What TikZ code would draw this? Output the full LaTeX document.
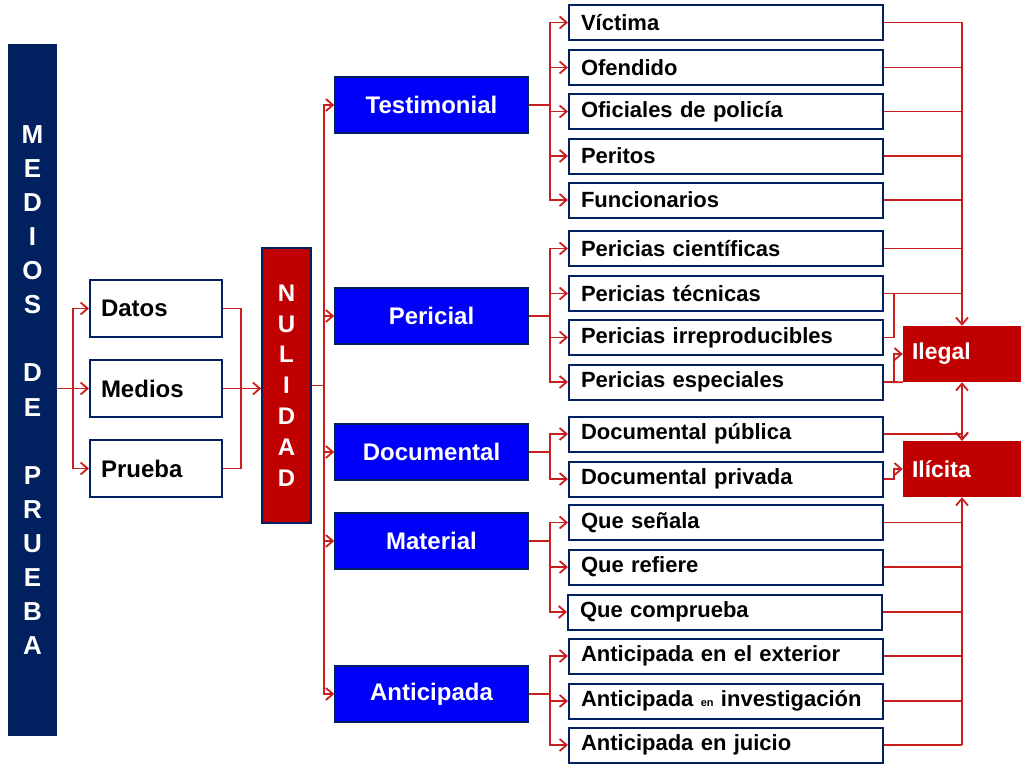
\documentclass[tikz,border=0pt]{standalone}
\usepackage{fontspec}
\setmainfont{Liberation Sans}
\usetikzlibrary{arrows.meta}
\definecolor{navy}{RGB}{0,32,96}
\definecolor{nred}{RGB}{192,0,0}
\definecolor{lred}{RGB}{200,30,30}
\definecolor{nblue}{RGB}{0,0,250}
\begin{document}
\begin{tikzpicture}[x=1pt,y=-1pt,
    leaf/.style={draw=navy,line width=2pt,fill=white,minimum width=314pt,minimum height=35pt,text width=290pt,inner xsep=12pt,align=left,font=\fontsize{22}{24}\bfseries\selectfont},
    mid/.style={leaf,minimum width=132pt,minimum height=57pt,text width=110pt,inner xsep=11pt,font=\fontsize{24}{26}\bfseries\selectfont},
    cat/.style={draw=navy,line width=1.5pt,fill=nblue,text=white,minimum width=193pt,minimum height=56pt,font=\fontsize{24}{26}\bfseries\selectfont},
    res/.style={fill=nred,text=white,minimum width=118pt,minimum height=56pt,text width=100pt,align=left,font=\fontsize{23}{25}\bfseries\selectfont},
    ln/.style={draw=lred,line width=1.8pt},
    arr/.style={ln,-{Straight Barb[length=7pt,width=12pt]}},
    darr/.style={ln,{Straight Barb[length=7pt,width=12pt]}-{Straight Barb[length=7pt,width=12pt]}}]
    \useasboundingbox (0,0) rectangle (1024,768);

    \node[fill=navy,minimum width=49pt,minimum height=692pt,text=white,align=center,
          font=\fontsize{26}{34.1}\bfseries\selectfont] (medp) at (32.5,390)
          {M\\E\\D\\I\\O\\S\\ \\D\\E\\ \\P\\R\\U\\E\\B\\A};
    \node[mid] (datos) at (156,308.5) {Datos};
    \node[mid] (medios) at (156,388.5) {Medios};
    \node[mid] (prueba) at (156,468.5) {Prueba};
    \node[draw=navy,line width=1.5pt,fill=nred,minimum width=49pt,minimum height=275pt,text=white,align=center,
          font=\fontsize{24}{30.8}\bfseries\selectfont] (nul) at (286.5,385.5)
          {N\\U\\L\\I\\D\\A\\D};

    \node[cat] (test) at (431.5,105) {Testimonial};
    \node[cat] (peri) at (431.5,316) {Pericial};
    \node[cat] (docu) at (431.5,452) {Documental};
    \node[cat] (mate) at (431.5,541) {Material};
    \node[cat] (anti) at (431.5,694) {Anticipada};

    \node[leaf] (vic) at (726,22.5) {Víctima};
    \node[leaf] (ofe) at (726,67.5) {Ofendido};
    \node[leaf] (ofi) at (726,111.5) {Oficiales de policía};
    \node[leaf] (per) at (726,156) {Peritos};
    \node[leaf] (fun) at (726,200) {Funcionarios};
    \node[leaf] (pcie) at (726,248.5) {Pericias científicas};
    \node[leaf] (ptec) at (726,293.5) {Pericias técnicas};
    \node[leaf] (pirr) at (726,337.5) {Pericias irreproducibles};
    \node[leaf] (pesp) at (726,382) {Pericias especiales};
    \node[leaf] (dpub) at (726,434) {Documental pública};
    \node[leaf] (dpri) at (726,479) {Documental privada};
    \node[leaf] (qsen) at (726,522.5) {Que señala};
    \node[leaf] (qref) at (726,567) {Que refiere};
    \node[leaf] (qcom) at (725,612) {Que comprueba};
    \node[leaf] (aext) at (726,656) {Anticipada en el exterior};
    \node[leaf] (ainv) at (726,701) {Anticipada {\fontsize{11}{11}\selectfont en} investigación};
    \node[leaf] (ajui) at (726,745) {Anticipada en juicio};

    \node[res] (ilegal) at (962,354) {Ilegal};
    \node[res] (ilicita) at (962,469) {Ilícita};

    % left side
    \draw[arr] (medp.east |- medios) -- ++(16,0) |- (datos);
    \draw[arr] (medp.east |- medios) -- ++(16,0) |- (prueba);
    \draw[arr] (medp.east |- medios) -- (medios);
    \draw[ln] (datos.east) -- ++(18,0) |- (prueba.east);
    \draw[arr] (medios.east) -- (nul.west |- medios);
    \foreach \c in {test,peri,docu,mate,anti}
        \draw[arr] (nul.east) -- ++(12,0) |- (\c);

    % categories to leaves
    \foreach \c/\l in {test/vic,test/ofe,test/ofi,test/per,test/fun,
                       peri/pcie,peri/ptec,peri/pirr,peri/pesp,
                       docu/dpub,docu/dpri,
                       mate/qsen,mate/qref,mate/qcom,
                       anti/aext,anti/ainv,anti/ajui}
        \draw[arr] (\c.east) -- ++(21,0) |- (\l);

    % right side
    \coordinate (busT) at (962,22.5);
    \coordinate (busB) at (962,745);
    \foreach \l in {vic,ofe,ofi,per,fun,pcie,ptec,dpub}
        \draw[ln] (\l.east) -- (\l.east -| busT);
    \foreach \l in {qsen,qref,qcom,aext,ainv,ajui}
        \draw[ln] (\l.east) -- (\l.east -| busB);
    \draw[arr] (busT) -- (ilegal.north);
    \draw[arr] (busB) -- (ilicita.south);
    \draw[darr] (ilegal.south) -- (ilicita.north);
    \draw[arr] (dpub.east -| busT) -- (ilicita.north);
    \draw[ln] (pirr.east) -- ++(10,0) |- (ptec.east);
    \draw[ln] (pesp.east) -- (ilegal.south west);
    \draw[arr] (pesp.east) -- ++(10,0) |- (ilegal.west);
    \draw[arr] (dpri.east) -- ++(10,0) |- (ilicita.west);
\end{tikzpicture}
\end{document}
